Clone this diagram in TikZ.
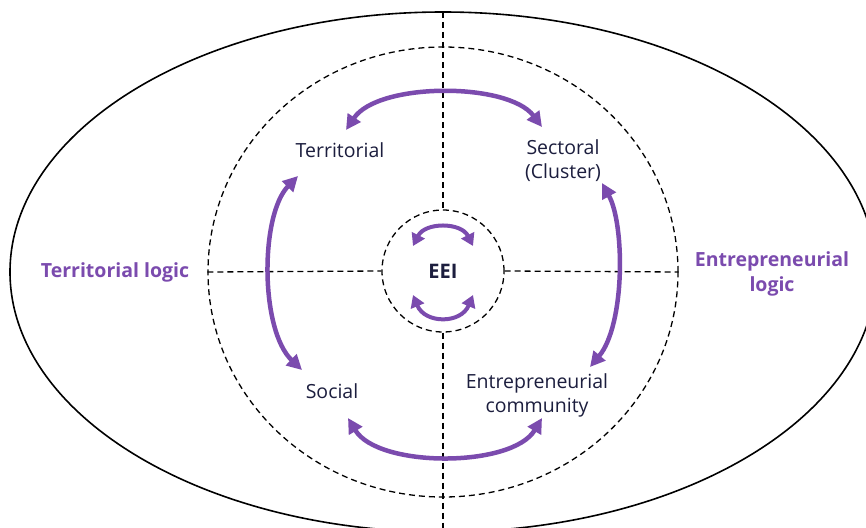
\documentclass[tikz,border=0pt]{standalone}
\usepackage{fontspec}
\setmainfont{Open Sans}
\usetikzlibrary{arrows.meta,shapes.geometric}
\definecolor{purp}{HTML}{7B4BAE}
\definecolor{navy}{HTML}{1C1E3E}
\tikzset{
  guide/.style={draw=black,line width=1.3pt,dash pattern=on 6pt off 4pt},
  bigarrow/.style={draw=purp,line width=4.5pt,{Triangle[length=15pt,width=15pt]}-{Triangle[length=15pt,width=15pt]}},
  smallarrow/.style={draw=purp,line width=4pt,{Triangle[length=12pt,width=14pt]}-{Triangle[length=12pt,width=14pt]}},
  lbl/.style={text=navy,font=\fontsize{19.5}{24}\selectfont,align=center},
  logic/.style={text=purp,font=\bfseries\fontsize{19.5}{25}\selectfont,align=center}
}
\begin{document}
\begin{tikzpicture}[x=1pt,y=-1pt]
\useasboundingbox (0,0) rectangle (866,527);
\clip (0,0) rectangle (866,527);
\fill[white] (0,0) rectangle (866,527);
% shapes
\draw[line width=1.6pt] (443,272) ellipse [x radius=433,y radius=260];
\node[guide,ellipse,minimum width=470pt,minimum height=450pt,inner sep=0pt,draw] (mid) at (443,272) {};
\node[guide,circle,minimum size=122pt,inner sep=0pt,draw] (core) at (443,271) {};
\coordinate (vtop) at (443,12);
\coordinate (vbot) at (443,540);
\draw[guide] (vtop) -- (core.north);
\draw[guide] (core.south) -- (vbot);
\draw[guide] (mid.west) -- (core.west);
\draw[guide] (core.east) -- (mid.east);
% labels
\node[lbl] (terr) at (340,150) {Territorial};
\node[lbl] (sect) at (563,161) {Sectoral\\(Cluster)};
\node[lbl] (soc) at (332,391) {Social};
\node[lbl] (entc) at (537,395) {Entrepreneurial\\community};
\node[text=navy,font=\bfseries\fontsize{20}{24}\selectfont] (eei) at (443,271) {EEI};
\node[logic] (tl) at (115,272) {Territorial logic};
\node[logic] (el) at (772,274) {Entrepreneurial\\logic};
% arrows
\coordinate (a1) at (346,130); \coordinate (a2) at (542,127);
\draw[bigarrow] (a1) .. controls (378,82) and (508,82) .. (a2);
\coordinate (b1) at (298,176); \coordinate (b2) at (302,370);
\draw[bigarrow] (b1) .. controls (260,215) and (260,330) .. (b2);
\coordinate (c1) at (602,183); \coordinate (c2) at (590,367);
\draw[bigarrow] (c1) .. controls (625,225) and (625,325) .. (c2);
\coordinate (d1) at (348,418); \coordinate (d2) at (542,418);
\draw[bigarrow] (d1) .. controls (378,468) and (512,468) .. (d2);
\coordinate (e1) at (413,246); \coordinate (e2) at (473,246);
\draw[smallarrow] (e1) .. controls (425,222) and (461,222) .. (e2);
\coordinate (f1) at (413,295); \coordinate (f2) at (473,295);
\draw[smallarrow] (f1) .. controls (425,324) and (461,324) .. (f2);
\end{tikzpicture}
\end{document}
